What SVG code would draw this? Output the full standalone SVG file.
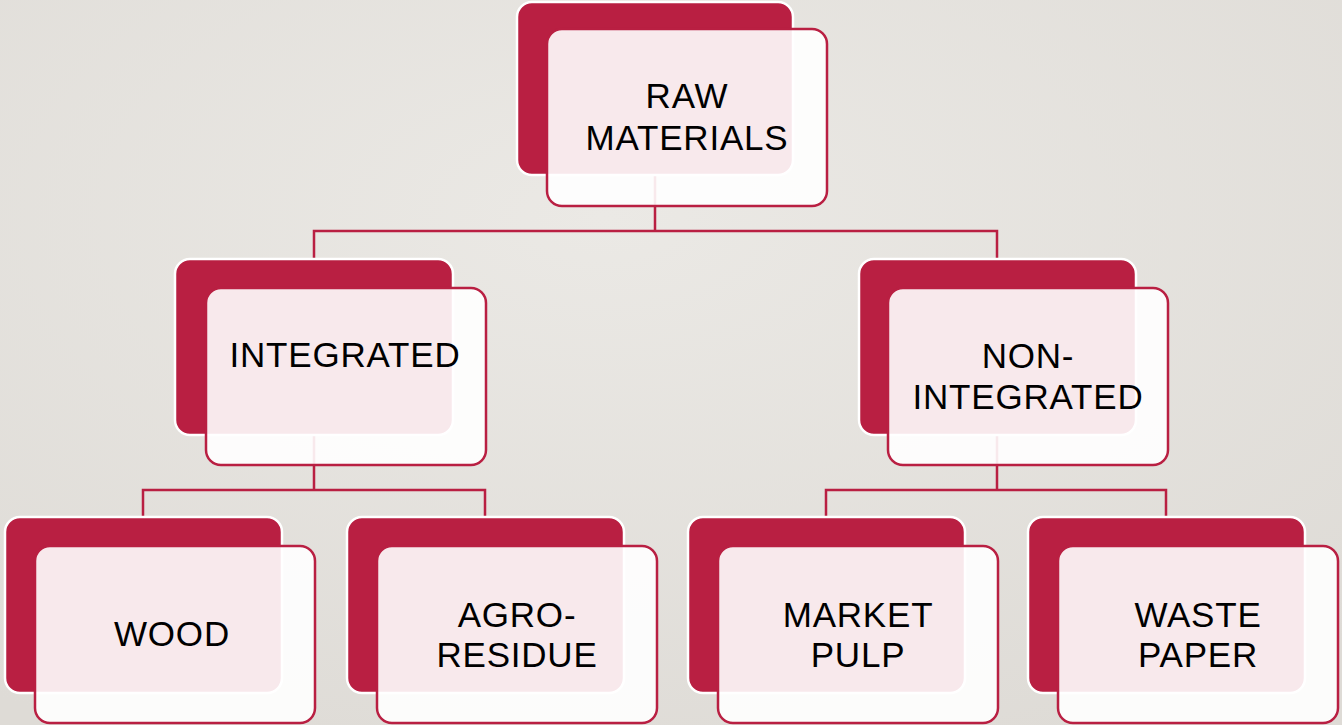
<svg xmlns="http://www.w3.org/2000/svg" width="1342" height="725" viewBox="0 0 1342 725">
<defs>
<radialGradient id="bg" cx="0.45" cy="0.3" r="0.8">
<stop offset="0" stop-color="#ebe9e5"/>
<stop offset="1" stop-color="#dedbd6"/>
</radialGradient>
</defs>
<style>
.back{fill:#b91f42;stroke:#ffffff;stroke-width:2.5}
.front{fill:#ffffff;fill-opacity:0.9;stroke:#b91f42;stroke-width:2.5}
.conn{fill:none;stroke:#b91f42;stroke-width:2.5}
.lbl{font-family:"Liberation Sans",Arial,sans-serif;font-size:35px;letter-spacing:0.8px;fill:#000;text-anchor:middle}
</style>
<rect width="1342" height="725" fill="url(#bg)"/>
<g id="connectors">
<path class="conn" d="M655,175 V231 M314,258 V231 H997 V258"/>
<path class="conn" d="M314,435 V490 M143,517 V490 H485 V517"/>
<path class="conn" d="M997,435 V490 M826,517 V490 H1166 V517"/>
</g>
<g id="raw-materials">
<rect class="back" x="517" y="2" width="276" height="173" rx="15"/>
<rect class="front" x="547" y="29" width="280" height="177" rx="15"/>
<text class="lbl" x="687" y="108">RAW</text>
<text class="lbl" x="687" y="150">MATERIALS</text>
</g>
<g id="integrated">
<rect class="back" x="175" y="259" width="278" height="176" rx="15"/>
<rect class="front" x="206" y="288" width="280" height="177" rx="15"/>
<text class="lbl" x="345" y="367">INTEGRATED</text>
</g>
<g id="non-integrated">
<rect class="back" x="859" y="259" width="277" height="176" rx="15"/>
<rect class="front" x="888" y="288" width="280" height="177" rx="15"/>
<text class="lbl" x="1028" y="368">NON-</text>
<text class="lbl" x="1028" y="409">INTEGRATED</text>
</g>
<g id="wood">
<rect class="back" x="5" y="517" width="277" height="176" rx="15"/>
<rect class="front" x="35" y="546" width="280" height="177" rx="15"/>
<text class="lbl" x="172" y="646">WOOD</text>
</g>
<g id="agro-residue">
<rect class="back" x="347" y="517" width="277" height="176" rx="15"/>
<rect class="front" x="377" y="546" width="280" height="177" rx="15"/>
<text class="lbl" x="517" y="627">AGRO-</text>
<text class="lbl" x="517" y="667">RESIDUE</text>
</g>
<g id="market-pulp">
<rect class="back" x="688" y="517" width="277" height="176" rx="15"/>
<rect class="front" x="718" y="546" width="280" height="177" rx="15"/>
<text class="lbl" x="858" y="627">MARKET</text>
<text class="lbl" x="858" y="667">PULP</text>
</g>
<g id="waste-paper">
<rect class="back" x="1028" y="517" width="277" height="176" rx="15"/>
<rect class="front" x="1058" y="546" width="280" height="177" rx="15"/>
<text class="lbl" x="1198" y="627">WASTE</text>
<text class="lbl" x="1198" y="667">PAPER</text>
</g>
</svg>
